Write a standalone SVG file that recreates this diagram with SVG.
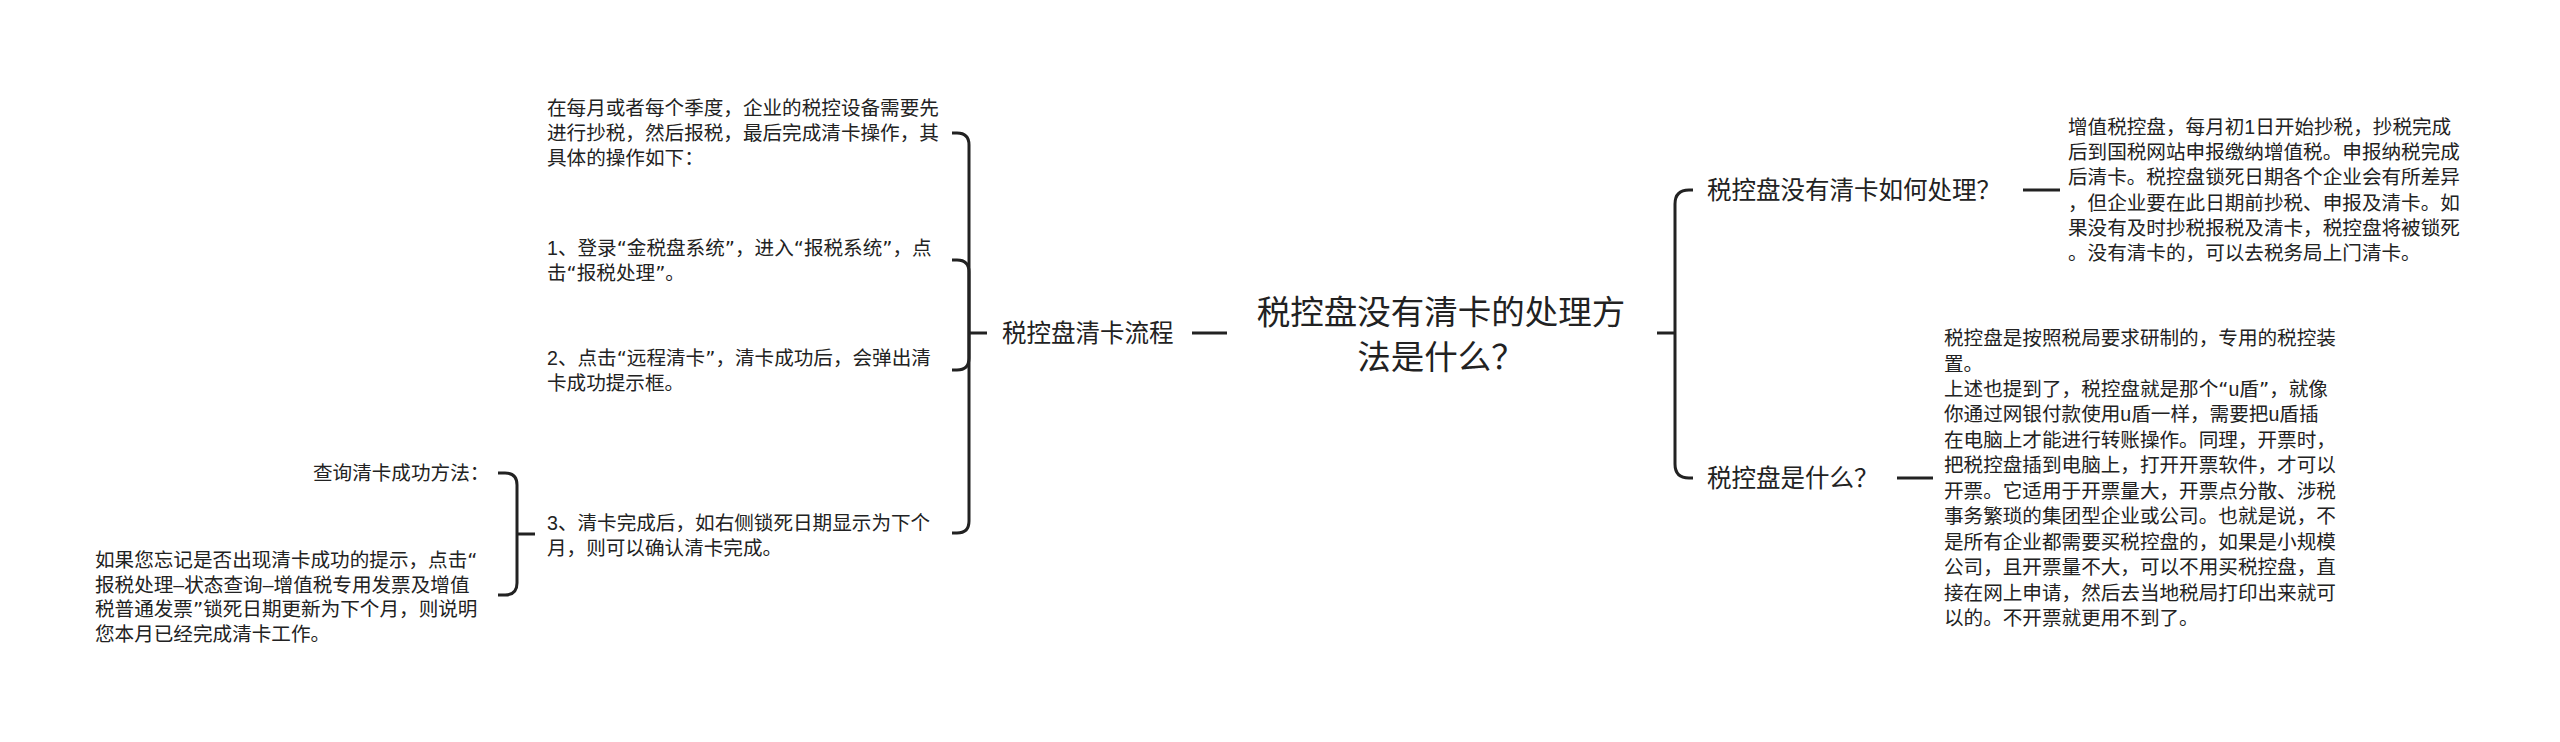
<svg xmlns="http://www.w3.org/2000/svg" width="2560" height="742" viewBox="0 0 2560 742">
<style>
.t{font-family:"Liberation Sans","Noto Sans CJK SC",sans-serif;fill:#222;dominant-baseline:central}
.s{font-size:19.6px}
.m{font-size:24.5px}
.r{font-size:33.5px}
.q{font-family:"DejaVu Sans","Noto Sans CJK SC",sans-serif}
.c{fill:none;stroke:#222;stroke-width:3}
</style>
<rect width="2560" height="742" fill="#fff"/>
<g id="connectors">
<path class="c" d="M1192,333 H1227"/>
<path class="c" d="M1657,333 H1675"/>
<path class="c" d="M1675,333 V204 Q1675,190 1689,190 H1693"/>
<path class="c" d="M1675,333 V464 Q1675,478 1689,478 H1693"/>
<path class="c" d="M2023,190 H2060"/>
<path class="c" d="M1897,478 H1933"/>
<path class="c" d="M987,333 H969"/>
<path class="c" d="M969,333 V145 Q969,133 957,133 H952"/>
<path class="c" d="M969,333 V272 Q969,260 957,260 H952"/>
<path class="c" d="M969,333 V358 Q969,370 957,370 H952"/>
<path class="c" d="M969,333 V521 Q969,533 957,533 H952"/>
<path class="c" d="M535,534 H517"/>
<path class="c" d="M517,534 V485 Q517,473 505,473 H498"/>
<path class="c" d="M517,534 V583 Q517,595 505,595 H498"/>
</g>
<g id="root">
<text class="t r" x="1441" y="312" text-anchor="middle">税控盘没有清卡的处理方</text>
<text class="t r" x="1441" y="357" text-anchor="middle">法是什么？</text>
</g>
<g id="n-flow">
<text class="t m" x="1002" y="333">税控盘清卡流程</text>
</g>
<g id="n-flow-0">
<text class="t s" x="547" y="108">在每月或者每个季度，企业的税控设备需要先</text>
<text class="t s" x="547" y="133">进行抄税，然后报税，最后完成清卡操作，其</text>
<text class="t s" x="547" y="158">具体的操作如下：</text>
</g>
<g id="n-flow-1">
<text class="t s" x="547" y="247.5">1、登录<tspan class="q">“</tspan>金税盘系统<tspan class="q">”</tspan>，进入<tspan class="q">“</tspan>报税系统<tspan class="q">”</tspan>，点</text>
<text class="t s" x="547" y="272.5">击<tspan class="q">“</tspan>报税处理<tspan class="q">”</tspan>。</text>
</g>
<g id="n-flow-2">
<text class="t s" x="547" y="357.5">2、点击<tspan class="q">“</tspan>远程清卡<tspan class="q">”</tspan>，清卡成功后，会弹出清</text>
<text class="t s" x="547" y="382.5">卡成功提示框。</text>
</g>
<g id="n-flow-3">
<text class="t s" x="547" y="522.5">3、清卡完成后，如右侧锁死日期显示为下个</text>
<text class="t s" x="547" y="547.5">月，则可以确认清卡完成。</text>
</g>
<g id="n-check-title">
<text class="t s" x="313" y="473">查询清卡成功方法：</text>
</g>
<g id="n-check-body">
<text class="t s" x="95" y="560">如果您忘记是否出现清卡成功的提示，点击<tspan class="q">“</tspan></text>
<text class="t s" x="95" y="584.5">报税处理–状态查询–增值税专用发票及增值</text>
<text class="t s" x="95" y="609">税普通发票<tspan class="q">”</tspan>锁死日期更新为下个月，则说明</text>
<text class="t s" x="95" y="633.5">您本月已经完成清卡工作。</text>
</g>
<g id="n-howto">
<text class="t m" x="1707" y="190">税控盘没有清卡如何处理？</text>
</g>
<g id="n-howto-body">
<text class="t s" x="2068" y="127">增值税控盘，每月初1日开始抄税，抄税完成</text>
<text class="t s" x="2068" y="152.2">后到国税网站申报缴纳增值税。申报纳税完成</text>
<text class="t s" x="2068" y="177.4">后清卡。税控盘锁死日期各个企业会有所差异</text>
<text class="t s" x="2068" y="202.6">，但企业要在此日期前抄税、申报及清卡。如</text>
<text class="t s" x="2068" y="227.8">果没有及时抄税报税及清卡，税控盘将被锁死</text>
<text class="t s" x="2068" y="253">。没有清卡的，可以去税务局上门清卡。</text>
</g>
<g id="n-what">
<text class="t m" x="1707" y="478">税控盘是什么？</text>
</g>
<g id="n-what-body">
<text class="t s" x="1944" y="338">税控盘是按照税局要求研制的，专用的税控装</text>
<text class="t s" x="1944" y="363.5">置。</text>
<text class="t s" x="1944" y="389">上述也提到了，税控盘就是那个<tspan class="q">“</tspan>u盾<tspan class="q">”</tspan>，就像</text>
<text class="t s" x="1944" y="414.4">你通过网银付款使用u盾一样，需要把u盾插</text>
<text class="t s" x="1944" y="439.8">在电脑上才能进行转账操作。同理，开票时，</text>
<text class="t s" x="1944" y="465.3">把税控盘插到电脑上，打开开票软件，才可以</text>
<text class="t s" x="1944" y="490.7">开票。它适用于开票量大，开票点分散、涉税</text>
<text class="t s" x="1944" y="516.2">事务繁琐的集团型企业或公司。也就是说，不</text>
<text class="t s" x="1944" y="541.6">是所有企业都需要买税控盘的，如果是小规模</text>
<text class="t s" x="1944" y="567">公司，且开票量不大，可以不用买税控盘，直</text>
<text class="t s" x="1944" y="592.5">接在网上申请，然后去当地税局打印出来就可</text>
<text class="t s" x="1944" y="618">以的。不开票就更用不到了。</text>
</g>
</svg>
